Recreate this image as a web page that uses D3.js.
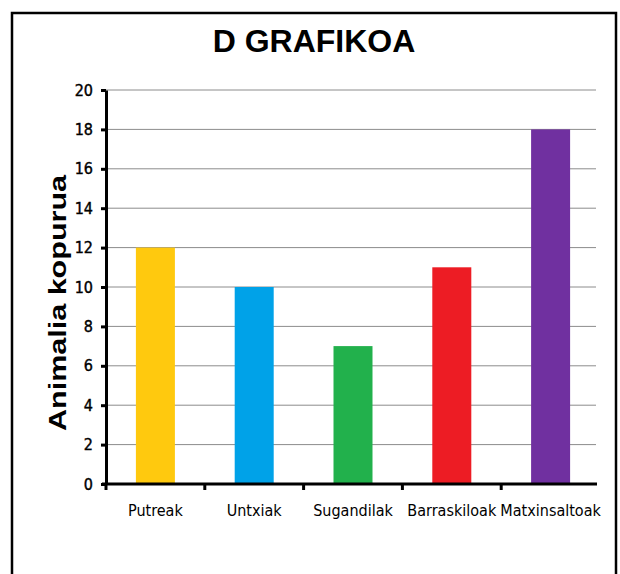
<!DOCTYPE html>
<html><head><meta charset="utf-8">
<script src="https://cdn.jsdelivr.net/npm/d3@7"></script>
<style>html,body{margin:0;padding:0;background:#fff;}svg{display:block;}</style>
</head><body>
<script>
const categories = ["Putreak", "Untxiak", "Sugandilak", "Barraskiloak", "Matxinsaltoak"];
const values = [12, 10, 7, 11, 18];
const colors = ["#FFC90E", "#00A2E8", "#22B14C", "#ED1C24", "#7030A0"];
const yTicks = [0, 2, 4, 6, 8, 10, 12, 14, 16, 18, 20];
const title = "D GRAFIKOA";
const yTitle = "Animalia kopurua";

const W = 620, H = 574;
const svg = d3.select("body").append("svg").attr("width", W).attr("height", H);

// frame
svg.append("rect").attr("x", 12).attr("y", 13).attr("width", 604).attr("height", 580)
  .attr("fill", "none").attr("stroke", "#000").attr("stroke-width", 2.5);

svg.append("text").attr("x", 314).attr("y", 52).attr("text-anchor", "middle")
  .attr("font-family", "Liberation Sans, Arial, sans-serif").attr("font-weight", "bold")
  .attr("font-size", 32).text(title);

const xb = d3.scaleBand().domain(categories).range([106, 600]);
const y = d3.scaleLinear().domain([0, 20]).range([484, 90]);

// gridlines
svg.append("g").selectAll("line").data(yTicks.filter(d => d > 0)).join("line")
  .attr("x1", 106).attr("x2", 596).attr("y1", d => y(d)).attr("y2", d => y(d))
  .attr("stroke", "#8c8c8c").attr("stroke-width", 1);

// bars
svg.append("g").selectAll("rect").data(categories).join("rect")
  .attr("x", d => xb(d) + xb.bandwidth() / 2 - 19.5)
  .attr("width", 39)
  .attr("y", (d, i) => y(values[i]))
  .attr("height", (d, i) => y(0) - y(values[i]))
  .attr("fill", (d, i) => colors[i]);

// y axis
const yAxis = svg.append("g").attr("transform", "translate(106,0)")
  .call(d3.axisLeft(y).tickValues(yTicks).tickSize(5).tickSizeOuter(0).tickPadding(8));
yAxis.select(".domain").attr("stroke", "#000").attr("stroke-width", 3);
yAxis.selectAll(".tick line").attr("stroke", "#000").attr("stroke-width", 3);
yAxis.selectAll(".tick text").attr("font-family", "DejaVu Sans Condensed, DejaVu Sans, sans-serif")
  .attr("font-size", 16).attr("fill", "#000").attr("stroke", "#000").attr("stroke-width", 0.4);

// x axis
const xAxisG = svg.append("g").attr("transform", "translate(0,484)");
xAxisG.append("line").attr("x1", 102).attr("x2", 597).attr("y1", 0).attr("y2", 0)
  .attr("stroke", "#000").attr("stroke-width", 3);
xAxisG.selectAll("line.tk").data(categories).join("line").attr("class", "tk")
  .attr("x1", d => xb(d)).attr("x2", d => xb(d)).attr("y1", 0).attr("y2", 6)
  .attr("stroke", "#000").attr("stroke-width", 3);
xAxisG.selectAll("text").data(categories).join("text")
  .attr("x", d => xb(d) + xb.bandwidth() / 2).attr("y", 32)
  .attr("text-anchor", "middle")
  .attr("font-family", "DejaVu Sans Condensed, DejaVu Sans, sans-serif")
  .attr("font-size", 16).attr("fill", "#000").text(d => d);

// y title
svg.append("text").attr("transform", "translate(66,303) rotate(-90)")
  .attr("text-anchor", "middle")
  .attr("font-family", "Liberation Sans, Arial, sans-serif").attr("font-weight", "bold")
  .attr("font-size", 24).attr("textLength", 256).attr("lengthAdjust", "spacingAndGlyphs")
  .text(yTitle);
</script>
</body></html>
